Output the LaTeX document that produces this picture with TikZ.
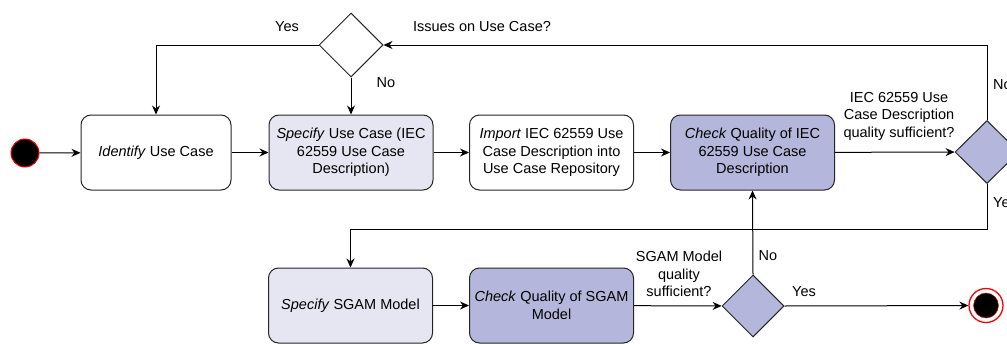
\documentclass[tikz,border=0pt]{standalone}
\usepackage{fontspec}
\setmainfont{Liberation Sans}
\usetikzlibrary{arrows.meta,shapes.geometric}

\definecolor{specfill}{HTML}{E6E6F3}
\definecolor{checkfill}{HTML}{B4B7DB}

\begin{document}
\begin{tikzpicture}[
  x=1pt, y=-1pt,
  every node/.style = {font=\fontsize{14.5}{17.5}\selectfont},
  act/.style        = {draw=black!85, line width=1pt, rounded corners=10pt,
                       align=center, inner sep=2pt,
                       minimum width=164pt, minimum height=75pt},
  spec/.style       = {act, fill=specfill},
  check/.style      = {act, fill=checkfill},
  decide/.style     = {diamond, draw=black!85, line width=1pt, inner sep=0pt,
                       minimum width=64pt, minimum height=63pt},
  flow/.style       = {line width=1pt, -{Stealth[length=9pt,width=8pt,inset=3pt]}},
  lbl/.style        = {align=center, inner sep=1pt},
]
  \clip (0,0) rectangle (1007,343);

  \node[circle, fill=black, draw=red, line width=1pt, minimum size=28pt,
        inner sep=0pt] (start) at (25,153) {};
  \node[act, minimum width=150pt] (ident)   at (156,152.5) {\textit{Identify} Use Case};
  \node[spec]   (specuc)  at (351,152.5) {\textit{Specify} Use Case (IEC\\62559 Use Case\\Description)};
  \node[act]    (import)  at (551.5,152.5) {\textit{Import} IEC 62559 Use\\Case Description into\\Use Case Repository};
  \node[check]  (checkuc) at (752.5,152.5) {\textit{Check} Quality of IEC\\62559 Use Case\\Description};
  \node[decide, fill=checkfill] (okuc) at (987,152) {};
  \node[decide, fill=white, minimum height=64pt] (issues) at (351,45) {};

  \node[spec]   (specsgam)  at (350.5,305.5) {\textit{Specify} SGAM Model};
  \node[check]  (checksgam) at (551.5,305.5) {\textit{Check} Quality of SGAM\\Model};
  \node[decide, fill=checkfill, minimum width=62pt, minimum height=62pt] (oksgam) at (753,306) {};
  \node[circle, draw=red, fill=white, line width=1.3pt, minimum size=34pt,
        inner sep=0pt] (stop) at (986,305.5) {};
  \node[circle, fill=black, draw=red, line width=0.4pt, minimum size=25pt,
        inner sep=0pt] at (stop) {};

  % main line
  \draw[flow] (start) -- (ident);
  \draw[flow] (ident) -- (specuc);
  \draw[flow] (specuc) -- (import);
  \draw[flow] (import) -- (checkuc);
  \draw[flow] (checkuc) -- (okuc);

  % feedback on the use case
  \draw[flow] (okuc.north) |- (issues.east);
  \draw[flow] (issues.west) -| (ident.north);
  \draw[flow] (issues.south) -- (specuc.north);

  % SGAM part
  \draw[flow] (okuc.south) -- ++(0,45) -| (specsgam.north);
  \draw[flow] (specsgam) -- (checksgam);
  \draw[flow] (checksgam) -- (oksgam);
  \draw[flow] (oksgam.north) -- (checkuc.south);
  \draw[flow] (oksgam.east) -- (stop);

  \node[lbl] at (287,27) {Yes};
  \node[lbl] at (482,27) {Issues on Use Case?};
  \node[lbl] at (386,83) {No};
  \node[lbl] at (899,116) {IEC 62559 Use\\Case Description\\quality sufficient?};
  \node[lbl, anchor=west] at (992,85) {No};
  \node[lbl, anchor=west] at (992,203) {Yes};
  \node[lbl] at (679,274) {SGAM Model\\quality\\sufficient?};
  \node[lbl] at (768,256) {No};
  \node[lbl] at (804,292) {Yes};
\end{tikzpicture}
\end{document}
